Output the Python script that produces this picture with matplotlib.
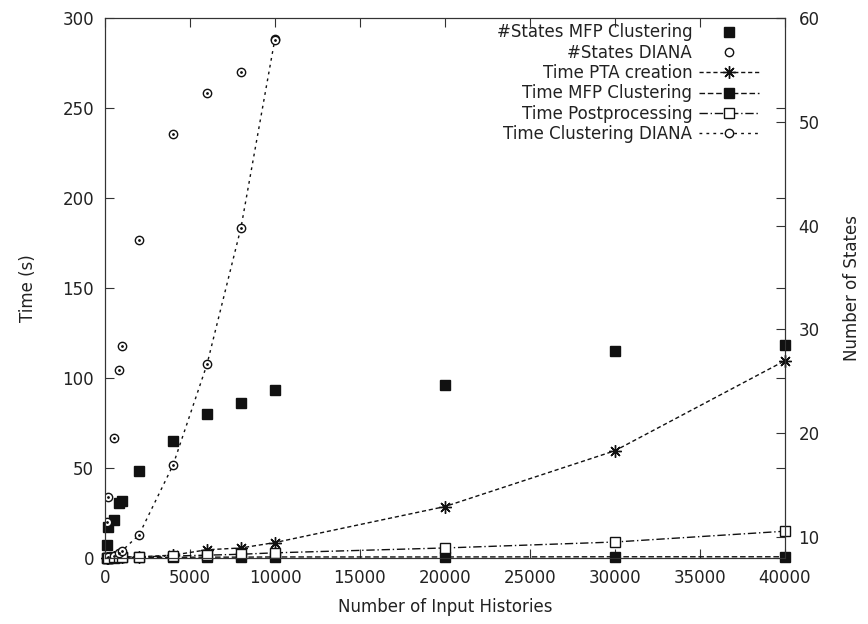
import matplotlib.pyplot as plt
import numpy as np

plt.rcParams['font.family'] = 'DejaVu Sans'
plt.rcParams['font.size'] = 12
plt.rcParams['text.color'] = '#222222'
plt.rcParams['axes.labelcolor'] = '#222222'
plt.rcParams['xtick.labelcolor'] = '#222222'
plt.rcParams['ytick.labelcolor'] = '#222222'

# Datos
x_states = [100, 200, 500, 800, 1000, 2000, 4000, 6000, 8000, 10000, 20000, 30000, 40000]
states_mfp = [9.2, 11.0, 11.6, 13.3, 13.5, 16.4, 19.3, 21.9, 22.9, 24.2, 24.7, 27.9, 28.5]

x_diana = [100, 200, 500, 800, 1000, 2000, 4000, 6000, 8000, 10000]
states_diana = [11.5, 13.9, 19.5, 26.1, 28.4, 38.6, 48.8, 52.8, 54.8, 57.9]

x_time = [100, 200, 500, 800, 1000, 2000, 4000, 6000, 8000, 10000, 20000, 30000, 40000]
time_pta = [0.1, 0.1, 0.2, 0.3, 0.4, 0.6, 1.5, 4.5, 5.5, 8.5, 28.5, 59.5, 109.5]
time_mfp = [0.1, 0.1, 0.1, 0.2, 0.2, 0.3, 0.3, 0.4, 0.4, 0.5, 0.5, 0.6, 0.6]
time_post = [0.1, 0.1, 0.2, 0.3, 0.4, 0.6, 1.0, 1.5, 2.0, 2.8, 5.5, 8.8, 14.8]

x_tdiana = [100, 200, 500, 800, 1000, 2000, 4000, 6000, 8000, 10000]
time_diana = [0.1, 0.3, 1.0, 2.5, 3.9, 12.8, 51.5, 107.5, 183.5, 288.5]

fig = plt.figure(figsize=(8.68, 6.24), dpi=100)
ax = fig.add_axes([0.121, 0.106, 0.783, 0.865])
ax2 = ax.twinx()

k = '#111111'
ax.plot(x_time, time_pta, color=k, lw=1, ls=(0, (3, 2)), marker=(8, 2, 0), ms=9,
        mew=1, clip_on=False, label='Time PTA creation')
ax.plot(x_time, time_mfp, color=k, lw=1, ls=(0, (4, 2)), marker='s', ms=7,
        clip_on=False, label='Time MFP Clustering')
ax.plot(x_time, time_post, color=k, lw=1, ls=(0, (6, 2, 1, 2)), marker='s', ms=7,
        mfc='white', mew=1, clip_on=False, label='Time Postprocessing')
ax.plot(x_tdiana, time_diana, color=k, lw=1, ls=(0, (2, 3)), marker='o', ms=6,
        mfc='white', mew=1, label='Time Clustering DIANA')
ax.plot(x_tdiana, time_diana, ls='none', marker='.', ms=2, color=k)

h_s1, = ax2.plot(x_states, states_mfp, ls='none', marker='s', ms=7, color=k,
                 clip_on=False, label='#States MFP Clustering')
h_s2, = ax2.plot(x_diana, states_diana, ls='none', marker='o', ms=6, mfc='white',
                 mec=k, mew=1, label='#States DIANA')
ax2.plot(x_diana, states_diana, ls='none', marker='.', ms=2, color=k)

ax.set_xlim(0, 40000)
ax.set_ylim(0, 300)
ax2.set_ylim(8, 60)
ax.set_xticks(np.arange(0, 40001, 5000))
ax.set_yticks(np.arange(0, 301, 50))
ax2.set_yticks(np.arange(10, 61, 10))

ax.tick_params(direction='in', length=6.5, top=True, right=True, color='#333333', pad=8)
ax2.tick_params(direction='in', length=6.5, color='#333333', pad=10)
for a in (ax, ax2):
    for s in a.spines.values():
        s.set_color('#333333')

ax.set_xlabel('Number of Input Histories', labelpad=8)
ax.set_ylabel('Time (s)', labelpad=18)
ax2.set_ylabel('Number of States', labelpad=17)

handles = [h_s1, h_s2] + ax.get_lines()[:4]
labels = [h.get_label() for h in handles]
ax.legend(handles, labels, loc='upper right', bbox_to_anchor=(0.962, 0.99),
          frameon=False, markerfirst=False, handlelength=3.6, handletextpad=0.4,
          labelspacing=0.14, borderpad=0, borderaxespad=0)

plt.savefig('out.png', dpi=100)
